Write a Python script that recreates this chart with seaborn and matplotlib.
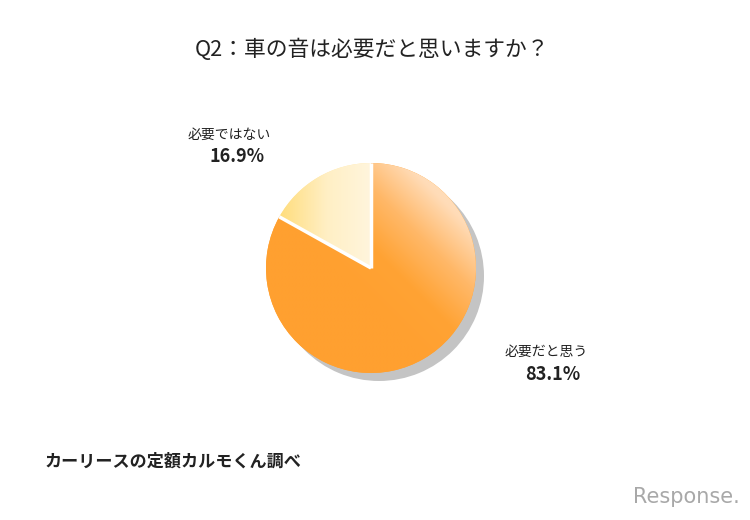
import numpy as np
import matplotlib.pyplot as plt
import seaborn as sns
from matplotlib.colors import LinearSegmentedColormap

sns.set_theme(style="white")
plt.rcParams['font.family'] = ['Noto Sans CJK JP', 'DejaVu Sans']

# データ
title = "Q2：車の音は必要だと思いますか？"
labels = ["必要ではない", "必要だと思う"]
values = [16.9, 83.1]
source = "カーリースの定額カルモくん調べ"

W, H = 750, 520
fig = plt.figure(figsize=(W / 100, H / 100), dpi=100)
fig.patch.set_facecolor("white")

# pie centre (371, 268) px, radius 105 px
cx, cy, r_px, half = 371, 268, 105, 130
ax = fig.add_axes([(cx - half) / W, (H - cy - half) / H, 2 * half / W, 2 * half / H])
lim = half / r_px

# shadow
off = 8 / r_px
ax.pie([sum(values)], radius=1, center=(off, -off), colors=["#c4c4c4"],
       wedgeprops=dict(linewidth=0), frame=True)

wedges, _ = ax.pie(values, radius=1, startangle=90, counterclock=True,
                   colors=["#ffe9a8", "#ffa434"],
                   wedgeprops=dict(linewidth=0), frame=True)
ax.set_xlim(-lim, lim)
ax.set_ylim(-lim, lim)
ax.set_aspect("equal")
ax.axis("off")

# gradients clipped to wedges
n = 300
xs = np.linspace(-1, 1, n)
X, Y = np.meshgrid(xs, xs[::-1])

cmap_small = LinearSegmentedColormap.from_list("s", ["#ffdc78", "#ffefc4", "#fff6e0"])
t_small = np.clip((X + 0.9) / 0.95, 0, 1)
im1 = ax.imshow(t_small, extent=(-1, 1, -1, 1), cmap=cmap_small, vmin=0, vmax=1, zorder=2)
im1.set_clip_path(wedges[0])

cmap_big = LinearSegmentedColormap.from_list("b", ["#ffa030", "#ffa334", "#ffb868", "#ffdcb8"])
t_big = np.clip(((X + Y) / np.sqrt(2) + 0.25) / 1.2, 0, 1)
im2 = ax.imshow(t_big, extent=(-1, 1, -1, 1), cmap=cmap_big, vmin=0, vmax=1, zorder=2)
im2.set_clip_path(wedges[1])

# white separators between slices (no outer outline)
for w in wedges:
    a = np.deg2rad(w.theta1)
    ax.plot([0, np.cos(a)], [0, np.sin(a)], color="white", lw=2.5,
            solid_capstyle="butt", zorder=4)

# テキスト
def px(x, y):
    return x / W, 1 - y / H

fig.text(*px(372, 50), title, ha="center", va="center", fontsize=15.7, color="#222222")

fig.text(*px(229, 135), labels[0], ha="center", va="center", fontsize=10, color="#222222")
fig.text(*px(237, 157), f"{values[0]:.1f}%", ha="center", va="center", fontsize=13,
         fontweight="bold", color="#222222")
fig.text(*px(546, 352), labels[1], ha="center", va="center", fontsize=10, color="#222222")
fig.text(*px(553, 374), f"{values[1]:.1f}%", ha="center", va="center", fontsize=13,
         fontweight="bold", color="#222222")

fig.text(*px(45, 462), source, ha="left", va="center", fontsize=12.3,
         fontweight="bold", color="#222222")

fig.text(*px(740, 497), "Response.", ha="right", va="center", fontsize=15,
         color="#a8a8a8", family=["DejaVu Sans"])

fig.savefig("out.png", dpi=100, facecolor="white")
